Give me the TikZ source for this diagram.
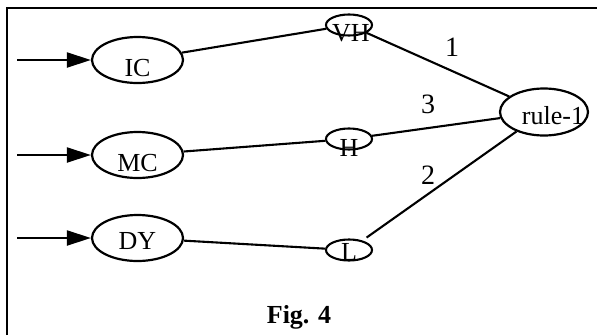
\documentclass[tikz,border=0pt]{standalone}
\usepackage{fontspec}
\setmainfont{Liberation Serif}
\usetikzlibrary{shapes.geometric,arrows.meta}
\begin{document}
\begin{tikzpicture}[x=1pt,y=-1pt,
  big/.style={ellipse,draw,line width=2.2pt,minimum width=91pt,minimum height=46pt,inner sep=0pt},
  small/.style={ellipse,draw,line width=2.1pt,minimum width=46pt,minimum height=21pt,inner sep=0pt},
  rulebox/.style={ellipse,draw,line width=2.2pt,minimum width=88pt,minimum height=47pt,inner sep=0pt},
  txt/.style={inner sep=0pt,font=\fontsize{26}{26}\selectfont},
  wtxt/.style={inner sep=0pt,font=\fontsize{28}{28}\selectfont},
  conn/.style={line width=2.1pt},
  inarrow/.style={line width=2pt,-{Triangle[length=24pt,width=15pt]}}
]
\useasboundingbox (0,0) rectangle (597,335);
% frame
\draw[line width=2.8pt] (7,335) -- (7,8) -- (597,8);
% input nodes
\node[big] (IC) at (137.5,60) {};
\node[big] (MC) at (137.5,155) {};
\node[big] (DY) at (137.5,238) {};
\node[txt] (tIC) at (137.5,68) {IC};
\node[txt] (tMC) at (137.5,163) {MC};
\node[txt] (tDY) at (137.5,241) {DY};
% input arrows
\coordinate (aIC) at (17,60);
\coordinate (aMC) at (17,155);
\coordinate (aDY) at (17,238);
\draw[inarrow] (aIC) -- (IC.west);
\draw[inarrow] (aMC) -- (MC.west);
\draw[inarrow] (aDY) -- (DY.west);
% middle nodes
\node[small] (VH) at (349,25) {};
\node[small] (H) at (349,139) {};
\node[small] (L) at (349,250) {};
\node[txt] (tVH) at (351,33) {VH};
\node[txt] (tH) at (349,148) {H};
\node[txt] (tL) at (349,252) {L};
% rule node
\node[rulebox] (R) at (544,112) {};
\node[txt] (tR) at (553,116) {rule-1};
% connectors
\draw[conn] (IC) -- (VH);
\draw[conn] (MC) -- (H);
\draw[conn] (DY) -- (L);
\draw[conn] (VH) -- (R);
\draw[conn] (H) -- (R);
\draw[conn,shorten <=5pt] (L) -- (R);
% weights
\node[wtxt] (w1) at (452,47) {1};
\node[wtxt] (w3) at (428,104) {3};
\node[wtxt] (w2) at (428,175) {2};
% caption
\node[txt,font=\fontsize{26}{26}\selectfont\bfseries] (cap) at (299,317) {Fig. 4};
\end{tikzpicture}
\end{document}
